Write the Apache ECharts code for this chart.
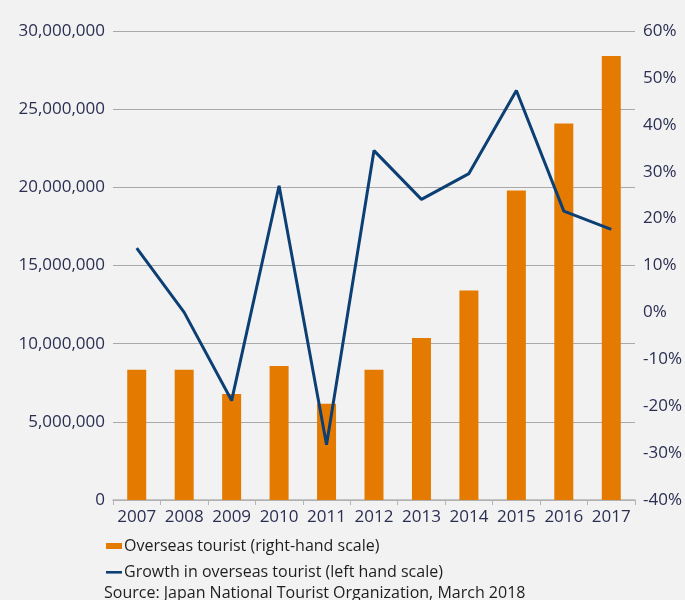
<!DOCTYPE html>
<html>
<head>
<meta charset="utf-8">
<script src="https://cdn.jsdelivr.net/npm/echarts@6/dist/echarts.min.js"></script>
<style>
  html, body { margin: 0; padding: 0; background: #f2f2f2; }
  #chart { width: 685px; height: 600px; }
</style>
</head>
<body>
<div id="chart"></div>
<script>
const years = ["2007", "2008", "2009", "2010", "2011", "2012", "2013", "2014", "2015", "2016", "2017"];
const tourists = [8330000, 8330000, 6780000, 8570000, 6150000, 8330000, 10370000, 13400000, 19790000, 24080000, 28400000];
const growth = [13.7, 0.0, -18.8, 27.0, -28.2, 34.5, 24.1, 29.6, 47.3, 21.6, 17.7];

const barName = "Overseas tourist (right-hand scale)";
const lineName = "Growth in overseas tourist (left hand scale)";
const sourceText = "Source: Japan National Tourist Organization, March 2018";

const textColor = "#2b2f52";
const font = "'Open Sans', sans-serif";

const chart = echarts.init(document.getElementById("chart"));

const option = {
  backgroundColor: "#f2f2f2",
  animation: false,
  textStyle: { fontFamily: font },
  grid: {
    left: 113,
    right: 50,
    top: 31,
    bottom: 100,
  },
  legend: {
    orient: "vertical",
    left: 101,
    top: 533,
    itemWidth: 16,
    itemHeight: 6,
    itemGap: 10,
    textStyle: { fontSize: 16, color: "#1e1e1e", fontFamily: font, padding: [0, 0, 0, -3] },
    data: [
      { name: barName, icon: "rect" },
      // thin bar centred in the icon box so the line swatch looks like a stroke
      { name: lineName, icon: "path://M0,0L0,0M0,6L0,6M0,2H16V4.6H0Z" },
    ],
  },
  graphic: [
    {
      type: "text",
      left: 104,
      top: 585,
      style: { text: sourceText, fontSize: 16, fill: "#1e1e1e", fontFamily: font },
    },
  ],
  xAxis: {
    type: "category",
    data: years,
    axisLine: { lineStyle: { color: "#b4b4b4", width: 1.5 } },
    axisTick: { show: true, length: 5, lineStyle: { color: "#b4b4b4" } },
    axisLabel: { color: textColor, fontSize: 17, margin: 9, interval: 0 },
  },
  yAxis: [
    {
      type: "value",
      min: 0,
      max: 30000000,
      interval: 5000000,
      axisLine: { show: false },
      axisTick: { show: false },
      splitLine: { lineStyle: { color: "#a9a9a9", width: 1 } },
      axisLabel: {
        color: textColor,
        fontSize: 17,
        margin: 8,
        formatter: (v) => v.toLocaleString("en-US"),
      },
    },
    {
      type: "value",
      min: -40,
      max: 60,
      interval: 10,
      position: "right",
      axisLine: { show: false },
      axisTick: { show: false },
      splitLine: { show: false },
      axisLabel: {
        color: textColor,
        fontSize: 17,
        margin: 8,
        formatter: (v) => v + "%",
      },
    },
  ],
  series: [
    {
      name: barName,
      type: "bar",
      yAxisIndex: 0,
      data: tourists,
      barWidth: 19,
      itemStyle: { color: "#e47a00" },
    },
    {
      name: lineName,
      type: "line",
      yAxisIndex: 1,
      data: growth,
      symbol: "none",
      lineStyle: { color: "#0c3f74", width: 3 },
      itemStyle: { color: "#0c3f74" },
    },
  ],
};

chart.setOption(option);
</script>
</body>
</html>
